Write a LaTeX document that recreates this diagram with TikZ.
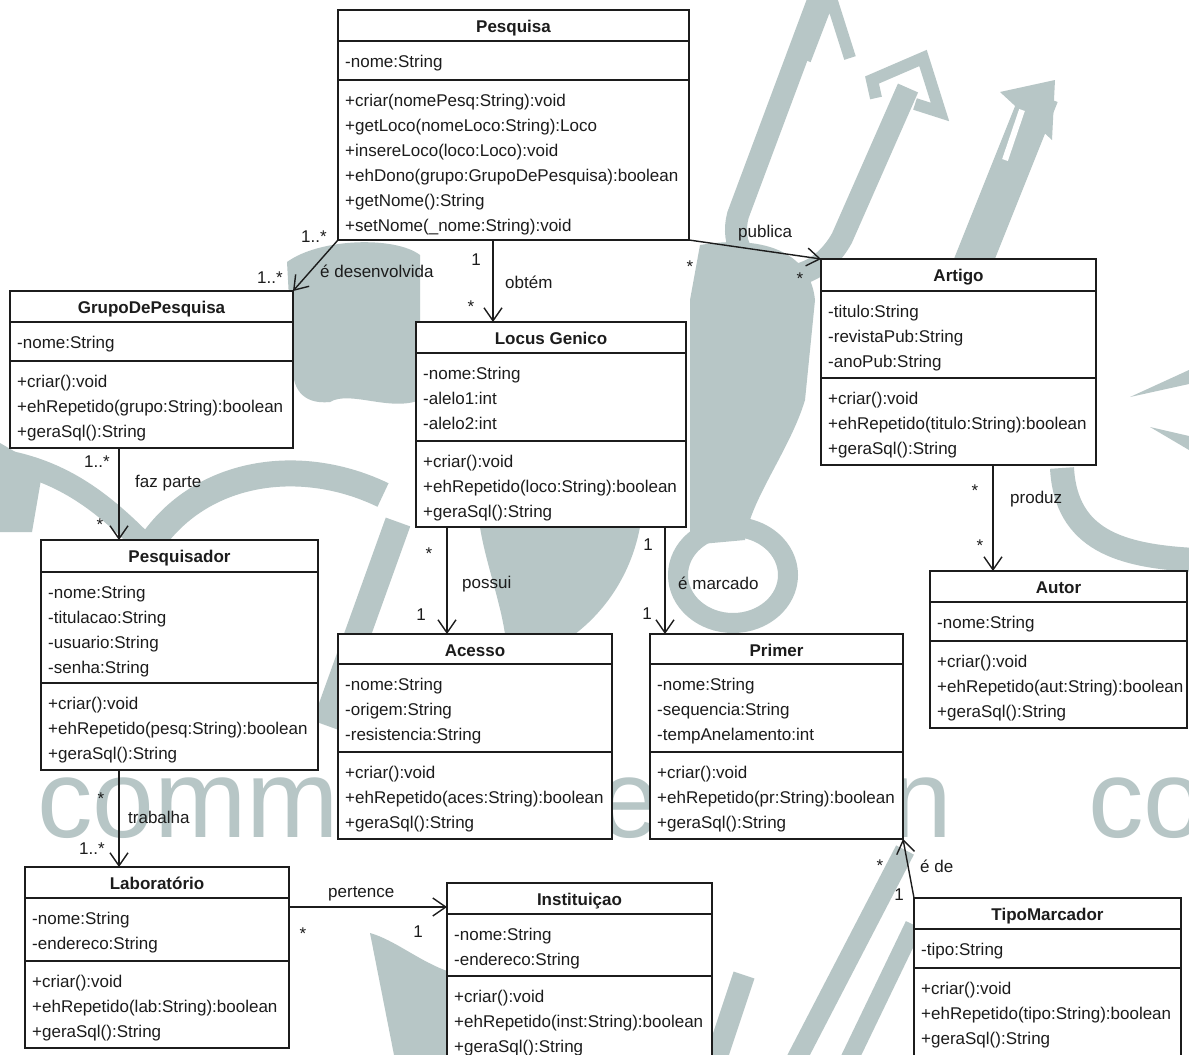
\documentclass[tikz,border=0pt]{standalone}
\usepackage{fontspec}
\setmainfont{Liberation Sans}
\usetikzlibrary{arrows.meta,fit,calc}
\definecolor{ink}{RGB}{28,28,28}
\definecolor{wm}{RGB}{183,198,198}
\tikzset{
  classframe/.style={draw=ink, line width=1.5pt, fill=white, inner sep=0pt, outer sep=0pt},
  divider/.style={draw=ink, line width=1.5pt},
  classtitle/.style={font=\fontsize{17}{20}\selectfont\bfseries, text=ink, anchor=base, inner sep=0pt},
  member/.style={font=\fontsize{17}{20}\selectfont, text=ink, anchor=base west, inner sep=0pt},
  lbl/.style={font=\fontsize{17}{20}\selectfont, text=ink, anchor=base west, inner sep=0pt},
  mult/.style={font=\fontsize{17}{20}\selectfont, text=ink, anchor=base, inner sep=0pt},
  assoc/.style={draw=ink, line width=1.4pt, -{Straight Barb[length=13pt,width=18pt,line width=1.4pt]}},
  wmline/.style={draw=wm, line width=#1},
  wmtext/.style={font=\fontsize{111}{111}\selectfont, text=wm, anchor=base west, inner sep=0pt},
}
% class box: name, left, top, right, bottom, first divider, second divider, title
\newcommand\umlclass[8]{%
  \coordinate (#1-nw) at (#2,#3);
  \coordinate (#1-se) at (#4,#5);
  \node[classframe, fit=(#1-nw)(#1-se)] (#1) {};
  \draw[divider] (#2,#6) -- (#4,#6) (#2,#7) -- (#4,#7);
  \node[classtitle] (#1-title) at ({(#2+#4)/2},{#3+22}) {#8};
}
% one compartment of members: node prefix, x, first baseline, entries
\newcommand\umlmembers[4]{%
  \foreach \m [count=\i from 0] in {#4}
    \node[member] (#1-\i) at (#2,{#3+25*\i}) {\m};
}
\begin{document}
\begin{tikzpicture}[x=1pt,y=-1pt]
\clip (0,0) rectangle (1189,1055);
\fill[white] (0,0) rectangle (1189,1055);

% ---- background watermark ----
% three arrows rising from a bent stem
\draw[wmline=22pt] (822,-10) -- (738,215) .. controls (722,275) and (805,305) .. (842,238) -- (908,88);
\draw[wmline=12pt, line join=miter] (805,60) -- (830,-5) -- (850,58);
\draw[wmline=12pt, line join=miter] (876,98) -- (872,80) -- (923,58) -- (940,112) -- (915,104);
\draw[wmline=38pt] (958,300) -- (1040,95);
\fill[wm] (1000,92) -- (1055,80) -- (1052,140) -- cycle;
\draw[white, line width=6pt] (1005,160) -- (1022,110);
% body below the arrows
\fill[wm] (700,245) .. controls (760,235) and (810,250) .. (815,300)
  -- (805,400) .. controls (790,450) and (750,500) .. (745,540) -- (690,545)
  -- (690,300) -- cycle;
\draw[wmline=20pt] (733,575) circle[x radius=55, y radius=48];
% figure on the left
\fill[wm] (287,262) .. controls (320,238) and (395,236) .. (420,255)
  -- (420,400) .. controls (390,412) and (350,390) .. (330,402)
  .. controls (300,405) and (293,385) .. (293,370) -- cycle;
\draw[wmline=26pt] (150,545) .. controls (200,470) and (300,455) .. (383,495);
\draw[wmline=22pt] (0,460) .. controls (60,470) and (100,500) .. (140,540);
\fill[wm] (0,443) -- (43,468) -- (32,532) -- (0,532) -- cycle;
\fill[wm] (318,478) ellipse[x radius=13, y radius=9];
\draw[wmline=26pt] (398,522) -- (325,725);
\fill[wm] (480,527) -- (640,527) .. controls (630,580) and (600,615) .. (575,634)
  -- (505,634) .. controls (500,600) and (485,560) .. (480,527) -- cycle;
% strokes on the right edge
\fill[wm] (1130,397) -- (1189,370) -- (1189,384) -- cycle;
\fill[wm] (1150,427) -- (1189,436) -- (1189,450) -- cycle;
\draw[wmline=24pt] (1062,468) .. controls (1066,540) and (1120,556) .. (1195,560);
% strokes along the bottom
\fill[wm] (370,933) .. controls (395,940) and (420,962) .. (450,972) -- (450,1060)
  -- (395,1060) -- cycle;
\draw[wmline=22pt] (715,1062) -- (744,975);
\draw[wmline=20pt] (795,1062) -- (905,850);
\draw[wmline=18pt] (848,1062) -- (914,925);
% lettering
\node[wmtext] (wm-comm) at (37,837) {comm};
\node[wmtext] (wm-e) at (598,837) {e};
\node[wmtext] (wm-n) at (890,837) {n};
\node[wmtext] (wm-co) at (1088,837) {co};

% ---- classes ----
\umlclass{pesq}{338}{10}{689}{240}{41}{80}{Pesquisa}
\umlmembers{pesq-a}{345}{67}{-nome:String}
\umlmembers{pesq-m}{345}{106}{+criar(nomePesq:String):void,+getLoco(nomeLoco:String):Loco,+insereLoco(loco:Loco):void,+ehDono(grupo:GrupoDePesquisa):boolean,+getNome():String,+setNome(\_nome:String):void}

\umlclass{grupo}{10}{291}{293}{448}{322}{361}{GrupoDePesquisa}
\umlmembers{grupo-a}{17}{348}{-nome:String}
\umlmembers{grupo-m}{17}{387}{+criar():void,+ehRepetido(grupo:String):boolean,+geraSql():String}

\umlclass{locus}{416}{322}{686}{527}{353}{441}{Locus Genico}
\umlmembers{locus-a}{423}{379}{-nome:String,-alelo1:int,-alelo2:int}
\umlmembers{locus-m}{423}{467}{+criar():void,+ehRepetido(loco:String):boolean,+geraSql():String}

\umlclass{artigo}{821}{259}{1096}{465}{291}{378}{Artigo}
\umlmembers{artigo-a}{828}{317}{-titulo:String,-revistaPub:String,-anoPub:String}
\umlmembers{artigo-m}{828}{404}{+criar():void,+ehRepetido(titulo:String):boolean,+geraSql():String}

\umlclass{autor}{930}{571}{1187}{728}{602}{641}{Autor}
\umlmembers{autor-a}{937}{628}{-nome:String}
\umlmembers{autor-m}{937}{667}{+criar():void,+ehRepetido(aut:String):boolean,+geraSql():String}

\umlclass{pesqr}{41}{540}{318}{770}{572}{683}{Pesquisador}
\umlmembers{pesqr-a}{48}{598}{-nome:String,-titulacao:String,-usuario:String,-senha:String}
\umlmembers{pesqr-m}{48}{709}{+criar():void,+ehRepetido(pesq:String):boolean,+geraSql():String}

\umlclass{acesso}{338}{634}{612}{839}{664}{752}{Acesso}
\umlmembers{acesso-a}{345}{690}{-nome:String,-origem:String,-resistencia:String}
\umlmembers{acesso-m}{345}{778}{+criar():void,+ehRepetido(aces:String):boolean,+geraSql():String}

\umlclass{primer}{650}{634}{903}{839}{664}{752}{Primer}
\umlmembers{primer-a}{657}{690}{-nome:String,-sequencia:String,-tempAnelamento:int}
\umlmembers{primer-m}{657}{778}{+criar():void,+ehRepetido(pr:String):boolean,+geraSql():String}

\umlclass{lab}{25}{867}{289}{1048}{898}{961}{Laboratório}
\umlmembers{lab-a}{32}{924}{-nome:String,-endereco:String}
\umlmembers{lab-m}{32}{987}{+criar():void,+ehRepetido(lab:String):boolean,+geraSql():String}

\umlclass{inst}{447}{883}{712}{1070}{914}{976}{Instituiçao}
\umlmembers{inst-a}{454}{940}{-nome:String,-endereco:String}
\umlmembers{inst-m}{454}{1002}{+criar():void,+ehRepetido(inst:String):boolean,+geraSql():String}

\umlclass{tipo}{914}{898}{1181}{1070}{929}{968}{TipoMarcador}
\umlmembers{tipo-a}{921}{955}{-tipo:String}
\umlmembers{tipo-m}{921}{994}{+criar():void,+ehRepetido(tipo:String):boolean,+geraSql():String}

% ---- associations ----
\coordinate (xObtem) at (493,0);
\coordinate (xFaz) at (119,0);
\coordinate (xPossui) at (447,0);
\coordinate (xMarca) at (665,0);
\coordinate (xProduz) at (993,0);
\coordinate (yPertence) at (0,907);

\draw[assoc] (pesq.south west) -- (grupo.north east);
\draw[assoc] (pesq.south -| xObtem) -- (locus.north -| xObtem);
\draw[assoc] (pesq.south east) -- (artigo.north west);
\draw[assoc] (grupo.south -| xFaz) -- (pesqr.north -| xFaz);
\draw[assoc] (locus.south -| xPossui) -- (acesso.north -| xPossui);
\draw[assoc] (locus.south -| xMarca) -- (primer.north -| xMarca);
\draw[assoc] (artigo.south -| xProduz) -- (autor.north -| xProduz);
\draw[assoc] (pesqr.south -| xFaz) -- (lab.north -| xFaz);
\draw[assoc] (lab.east |- yPertence) -- (inst.west |- yPertence);
\draw[assoc] (tipo.north west) -- (primer.south east);

% association names
\node[lbl] (n-desenv) at (320,277) {é desenvolvida};
\node[lbl] (n-obtem) at (505,288) {obtém};
\node[lbl] (n-publica) at (738,237) {publica};
\node[lbl] (n-faz) at (135,487) {faz parte};
\node[lbl] (n-possui) at (462,588) {possui};
\node[lbl] (n-marca) at (678,589) {é marcado};
\node[lbl] (n-produz) at (1010,503) {produz};
\node[lbl] (n-trab) at (128,823) {trabalha};
\node[lbl] (n-pert) at (328,897) {pertence};
\node[lbl] (n-ede) at (920,872) {é de};

% multiplicities
\node[mult] (m1) at (314,242) {1..*};
\node[mult] (m2) at (270,283) {1..*};
\node[mult] (m3) at (476,265) {1};
\node[mult] (m4) at (471,312) {*};
\node[mult] (m5) at (690,272) {*};
\node[mult] (m6) at (800,284) {*};
\node[mult] (m7) at (97,467) {1..*};
\node[mult] (m8) at (100,530) {*};
\node[mult] (m9) at (429,559) {*};
\node[mult] (m10) at (421,620) {1};
\node[mult] (m11) at (648,550) {1};
\node[mult] (m12) at (647,619) {1};
\node[mult] (m13) at (975,496) {*};
\node[mult] (m14) at (980,551) {*};
\node[mult] (m15) at (101,804) {*};
\node[mult] (m16) at (92,854) {1..*};
\node[mult] (m17) at (303,939) {*};
\node[mult] (m18) at (418,937) {1};
\node[mult] (m19) at (880,871) {*};
\node[mult] (m20) at (899,900) {1};
\end{tikzpicture}
\end{document}
